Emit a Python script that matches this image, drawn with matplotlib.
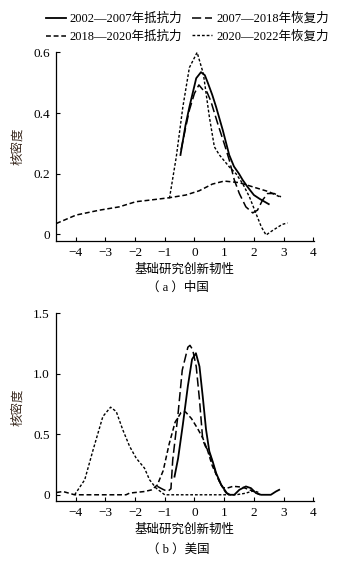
import matplotlib
matplotlib.use('Agg')
import matplotlib.pyplot as plt
from matplotlib.lines import Line2D

plt.rcParams['font.family'] = ['Liberation Serif', 'Noto Sans CJK SC', 'DejaVu Sans']
plt.rcParams['axes.unicode_minus'] = True

# series labels
labels = ['2002—2007年抵抗力', '2007—2018年恢复力', '2018—2020年抵抗力', '2020—2022年恢复力']

# China: kernel density curves
cn_solid_x = [-0.47, -0.3, -0.17, 0.06, 0.22, 0.35, 0.45, 0.6, 0.73, 0.95, 1.17, 1.33, 1.5, 1.62, 1.8, 2.0, 2.2, 2.5]
cn_solid_y = [0.262, 0.36, 0.42, 0.515, 0.535, 0.525, 0.50, 0.46, 0.42, 0.345, 0.262, 0.224, 0.2, 0.18, 0.155, 0.13, 0.117, 0.10]
cn_long_x = [-0.45, -0.3, -0.17, 0.0, 0.15, 0.3, 0.42, 0.55, 0.8, 1.0, 1.17, 1.34, 1.51, 1.73, 1.96, 2.12, 2.29, 2.46, 2.68, 2.91]
cn_long_y = [0.279, 0.35, 0.41, 0.465, 0.493, 0.475, 0.47, 0.44, 0.36, 0.30, 0.246, 0.18, 0.135, 0.091, 0.071, 0.08, 0.113, 0.135, 0.135, 0.124]
cn_med_x = [-4.65, -3.98, -3.2, -2.53, -1.97, -1.52, -0.85, -0.29, 0.16, 0.6, 1.0, 1.5, 2.06, 2.5, 2.85]
cn_med_y = [0.036, 0.064, 0.08, 0.091, 0.108, 0.113, 0.121, 0.13, 0.144, 0.166, 0.176, 0.171, 0.154, 0.141, 0.125]
cn_dot_x = [-0.84, -0.61, -0.39, -0.17, 0.09, 0.3, 0.5, 0.67, 0.84, 1.17, 1.4, 1.62, 1.85, 2.07, 2.25, 2.41, 2.55, 2.74, 2.95, 3.13]
cn_dot_y = [0.119, 0.256, 0.42, 0.55, 0.6, 0.53, 0.389, 0.289, 0.262, 0.223, 0.2, 0.168, 0.124, 0.069, 0.025, -0.002, 0.008, 0.02, 0.033, 0.038]

# USA: kernel density curves
us_solid_x = [-0.67, -0.55, -0.39, -0.22, -0.08, 0.05, 0.17, 0.28, 0.39, 0.5, 0.62, 0.73, 0.9, 1.09, 1.2, 1.34, 1.51, 1.73, 1.9, 2.07, 2.24, 2.57, 2.74, 2.85]
us_solid_y = [0.15, 0.3, 0.58, 0.9, 1.12, 1.17, 1.06, 0.81, 0.54, 0.36, 0.27, 0.179, 0.083, 0.014, 0.0, 0.0, 0.041, 0.069, 0.055, 0.014, 0.0, 0.0, 0.027, 0.041]
us_long_x = [-1.25, -1.06, -0.9, -0.79, -0.73, -0.56, -0.41, -0.34, -0.22, -0.15, -0.06, 0.06, 0.17, 0.28, 0.37, 0.5, 0.62, 0.73, 0.9, 1.05, 1.15]
us_long_y = [0.07, 0.045, 0.027, 0.05, 0.289, 0.647, 1.03, 1.1, 1.22, 1.235, 1.2, 1.06, 0.785, 0.454, 0.40, 0.35, 0.26, 0.17, 0.08, 0.02, 0.0]
us_med_x = [-4.64, -4.42, -4.03, -3.0, -2.3, -2.18, -1.68, -1.45, -1.25, -1.05, -0.85, -0.65, -0.45, -0.3, -0.1, 0.1, 0.28, 0.45, 0.6, 0.84, 0.95, 1.1, 1.3, 1.62, 2.0, 2.2]
us_med_y = [0.019, 0.027, 0.0, 0.0, 0.0, 0.014, 0.027, 0.04, 0.08, 0.2, 0.42, 0.6, 0.68, 0.685, 0.63, 0.55, 0.47, 0.36, 0.24, 0.11, 0.06, 0.055, 0.07, 0.063, 0.027, 0.0]
us_dot_x = [-4.03, -3.69, -3.41, -3.08, -2.82, -2.63, -2.41, -2.18, -1.96, -1.68, -1.51, -1.29, -1.0, 0.0, 1.4, 1.7, 2.0, 2.15]
us_dot_y = [0.0, 0.124, 0.37, 0.647, 0.724, 0.688, 0.537, 0.4, 0.303, 0.22, 0.124, 0.055, 0.0, 0.0, 0.0, 0.012, 0.033, 0.02]

xticks = [-4, -3, -2, -1, 0, 1, 2, 3, 4]
cn_yticks = [0, 0.2, 0.4, 0.6]
cn_yticklabels = ['0', '0.2', '0.4', '0.6']
us_yticks = [0, 0.5, 1.0, 1.5]
us_yticklabels = ['0', '0.5', '1.0', '1.5']

styles = [
    dict(linestyle='-', lw=1.3),
    dict(linestyle=(0, (6, 2.5)), lw=1.1),
    dict(linestyle=(0, (3.2, 1.8)), lw=1.1),
    dict(linestyle=(0, (2.0, 1.4)), lw=1.0),
]

fig = plt.figure(figsize=(3.45, 5.64), dpi=100)
ax1 = fig.add_axes([0.162, 0.573, 0.748, 0.334])
ax2 = fig.add_axes([0.162, 0.112, 0.748, 0.3325])


def draw(ax, series, yticks, yticklabels, ylim, caption, cap_y):
    for (xs, ys), st in zip(series, styles):
        ax.plot(xs, ys, color='black', clip_on=False, **st)
    ax.set_xlim(-4.66, 4.02)
    ax.set_ylim(*ylim)
    ax.set_xticks(xticks)
    ax.set_xticklabels([str(t).replace('-', '\u2212') for t in xticks])
    ax.set_yticks(yticks)
    ax.set_yticklabels(yticklabels)
    ax.spines['top'].set_visible(False)
    ax.spines['right'].set_visible(False)
    for s in ('left', 'bottom'):
        ax.spines[s].set_linewidth(0.9)
    ax.tick_params(direction='in', length=3, width=0.8, labelsize=9.5, pad=4.5)
    ax.set_xlabel('基础研究创新韧性', fontsize=9)
    ax.xaxis.set_label_coords(0.5, -0.155)
    ax.xaxis.label.set_va('center')
    ax.set_ylabel('核密度', fontsize=9, color='#3a2a20')
    ax.yaxis.set_label_coords(-0.147, 0.5)
    ax.yaxis.label.set_va('center')
    fig.text(0.516, cap_y, caption, fontsize=9, ha='center', va='center')


draw(ax1, [(cn_solid_x, cn_solid_y), (cn_long_x, cn_long_y), (cn_med_x, cn_med_y), (cn_dot_x, cn_dot_y)],
     cn_yticks, cn_yticklabels, (-0.021, 0.6), '（ a ）中国', 1 - 288 / 564)
draw(ax2, [(us_solid_x, us_solid_y), (us_long_x, us_long_y), (us_med_x, us_med_y), (us_dot_x, us_dot_y)],
     us_yticks, us_yticklabels, (-0.05, 1.5), '（ b ）美国', 1 - 550 / 564)

# legend: column order puts 抵抗力 on the left, 恢复力 on the right
handles = [Line2D([], [], color='black', **st) for st in styles]
order = [0, 2, 1, 3]
fig.legend([handles[i] for i in order], [labels[i] for i in order], ncol=2,
           loc='upper center', bbox_to_anchor=(0.543, 0.993), frameon=False,
           fontsize=9.0, handlelength=1.6, handletextpad=0.3, columnspacing=0.8,
           labelspacing=0.45, borderaxespad=0.3)

fig.savefig('out.png', dpi=100)
